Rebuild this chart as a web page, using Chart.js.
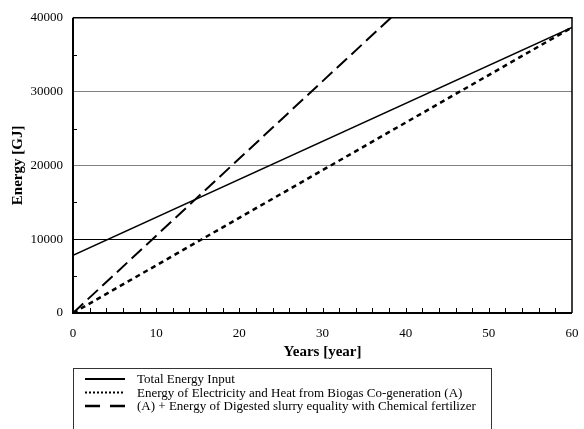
<!DOCTYPE html>
<html>
<head>
<meta charset="utf-8">
<script src="https://cdn.jsdelivr.net/npm/chart.js@4"></script>
<style>
  body { margin: 0; background: #fff; }
  .wrap { width: 584px; height: 429px; }
</style>
</head>
<body>
<div class="wrap"><canvas id="myChart"></canvas></div>
<script>
// values
const years = [0, 60];
const totalInput = [7800, 38700];
const biogasEnergy = [0, 38700];
const withFertilizer = [0, 62800];
const seriesLabels = [
    'Total Energy Input',
    'Energy of Electricity and Heat from Biogas Co-generation (A)',
    '(A) + Energy of Digested slurry equality with Chemical fertilizer'
];
const xTicks = [0, 10, 20, 30, 40, 50, 60];
const yTicks = [0, 10000, 20000, 30000, 40000];

const serif = "'Liberation Serif', 'Times New Roman', serif";
const toPoints = (vals) => years.map((x, i) => ({ x: x, y: vals[i] }));

// short inside ticks + plot frame
const frameTicks = {
    id: 'frameTicks',
    afterDatasetsDraw(chart) {
        const { ctx, chartArea: a, scales: { x, y } } = chart;
        ctx.save();
        ctx.strokeStyle = '#000';
        ctx.lineWidth = 1;
        ctx.beginPath();
        for (let v = 2; v < 60; v += 2) {
            const px = Math.round(x.getPixelForValue(v)) + 0.5;
            ctx.moveTo(px, a.bottom);
            ctx.lineTo(px, a.bottom - 5);
        }
        for (let v = 5000; v < 40000; v += 10000) {
            const py = Math.round(y.getPixelForValue(v)) + 0.5;
            ctx.moveTo(a.left, py);
            ctx.lineTo(a.left + 4, py);
        }
        ctx.stroke();

        ctx.lineWidth = 1.5;
        ctx.beginPath();
        ctx.moveTo(a.left, a.top);
        ctx.lineTo(a.right, a.top);
        ctx.lineTo(a.right, a.bottom);
        ctx.stroke();

        ctx.lineWidth = 2;
        ctx.beginPath();
        ctx.moveTo(a.left, a.top);
        ctx.lineTo(a.left, a.bottom);
        ctx.lineTo(a.right, a.bottom);
        ctx.stroke();
        ctx.restore();
    }
};

// boxed legend under the axis title
const boxLegend = {
    id: 'boxLegend',
    afterDraw(chart) {
        const { ctx, chartArea: a } = chart;
        const samples = [
            { dash: [], width: 2 },
            { dash: [2, 2], width: 2 },
            { dash: [15, 10], width: 2.5 }
        ];
        const top = 368.5;
        ctx.save();
        ctx.strokeStyle = '#333';
        ctx.lineWidth = 1;
        ctx.strokeRect(a.left + 0.5, top, 418, 120);

        ctx.font = '13px ' + serif;
        ctx.fillStyle = '#000';
        ctx.textBaseline = 'middle';
        chart.data.datasets.forEach((ds, i) => {
            const rowY = 379 + i * 13.5;
            ctx.strokeStyle = '#000';
            ctx.lineWidth = samples[i].width;
            ctx.setLineDash(samples[i].dash);
            ctx.beginPath();
            ctx.moveTo(a.left + 12, rowY);
            ctx.lineTo(a.left + 52, rowY);
            ctx.stroke();
            ctx.setLineDash([]);
            ctx.fillText(ds.label, a.left + 64, rowY + 1);
        });
        ctx.restore();
    }
};

new Chart(document.getElementById('myChart'), {
    type: 'line',
    data: {
        datasets: [
            {
                label: seriesLabels[0],
                data: toPoints(totalInput),
                borderColor: '#000',
                borderWidth: 1.5,
                pointRadius: 0,
            },
            {
                label: seriesLabels[1],
                data: toPoints(biogasEnergy),
                borderColor: '#000',
                borderWidth: 2.5,
                borderDash: [5, 4],
                pointRadius: 0,
            },
            {
                label: seriesLabels[2],
                data: toPoints(withFertilizer),
                borderColor: '#000',
                borderWidth: 2,
                borderDash: [14, 6],
                pointRadius: 0,
            }
        ]
    },
    options: {
        responsive: true,
        maintainAspectRatio: false,
        animation: false,
        layout: { padding: { left: 9, right: 12, top: 16, bottom: 68 } },
        scales: {
            x: {
                type: 'linear',
                min: 0,
                max: 60,
                afterFit: (scale) => {
                    scale.height = 48;
                    scale.paddingLeft = 0;
                    scale.paddingRight = 0;
                },
                afterBuildTicks: (scale) => { scale.ticks = xTicks.map(v => ({ value: v })); },
                ticks: {
                    color: '#000', font: { family: serif, size: 13 }, padding: 13, maxRotation: 0,
                    callback: (v) => String(v)
                },
                grid: { display: false, drawTicks: false },
                border: { display: false },
                title: {
                    display: true,
                    text: 'Years [year]',
                    color: '#000',
                    font: { family: serif, size: 15, weight: 'bold' },
                    padding: 0,
                }
            },
            y: {
                min: 0,
                max: 40000,
                afterFit: (scale) => { scale.width = 64; },
                afterBuildTicks: (scale) => { scale.ticks = yTicks.map(v => ({ value: v })); },
                ticks: {
                    color: '#000', font: { family: serif, size: 13 }, padding: 10,
                    callback: (v) => String(v)
                },
                grid: {
                    drawTicks: false,
                    color: (c) => {
                        const v = c.tick ? c.tick.value : 0;
                        if (v === 0 || v === 40000) return 'rgba(0,0,0,0)';
                        return v === 10000 ? '#000' : '#808080';
                    },
                    lineWidth: 1,
                },
                border: { display: false },
                title: {
                    display: true,
                    text: 'Energy [GJ]',
                    color: '#000',
                    font: { family: serif, size: 15, weight: 'bold' },
                    padding: 0,
                }
            }
        },
        plugins: {
            legend: { display: false },
            tooltip: { enabled: false }
        }
    },
    plugins: [frameTicks, boxLegend]
});
</script>
</body>
</html>
